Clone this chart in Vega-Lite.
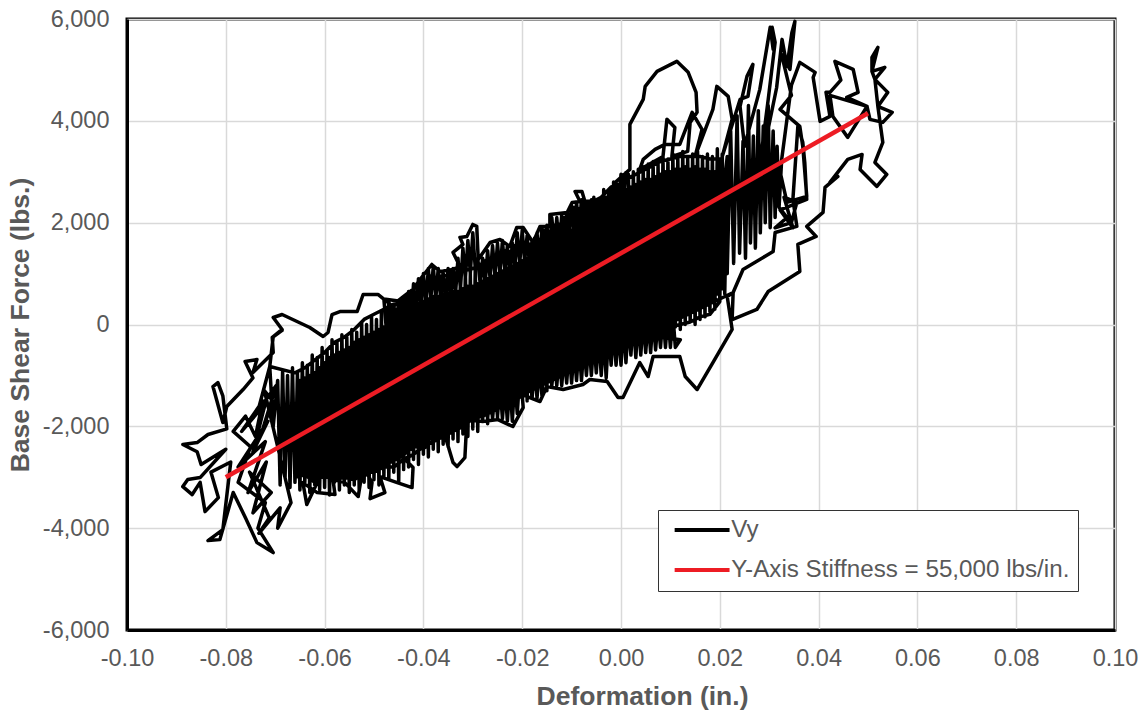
{"$schema":"https://vega.github.io/schema/vega-lite/v6.json","width":988,"height":611,"autosize":"none","padding":{"left":127,"top":19,"right":28,"bottom":83},"background":"white","config":{"view":{"stroke":"#000","strokeWidth":3},"font":"Liberation Sans"},"layer":[{"data":{"values":[
{"x":-0.0684,"y":-98},{"x":-0.0706,"y":-255},{"x":-0.0704,"y":-550},{"x":-0.0745,"y":-943},{"x":-0.0737,"y":-688},{"x":-0.0761,"y":-727},{"x":-0.0745,"y":-1050},{"x":-0.0765,"y":-1277},{"x":-0.0798,"y":-1611},{"x":-0.0806,"y":-1926},{"x":-0.0826,"y":-1218},{"x":-0.0816,"y":-1140},{"x":-0.0806,"y":-1400},{"x":-0.0798,"y":-2050},{"x":-0.0836,"y":-2161},{"x":-0.0858,"y":-2319},{"x":-0.0887,"y":-2358},{"x":-0.0858,"y":-2500},{"x":-0.085,"y":-2750},{"x":-0.08,"y":-2450},{"x":-0.0852,"y":-3006},{"x":-0.0877,"y":-3046},{"x":-0.0887,"y":-3183},{"x":-0.0868,"y":-3340},{"x":-0.0852,"y":-3100},{"x":-0.0842,"y":-3675},{"x":-0.0815,"y":-3400},{"x":-0.083,"y":-2900},{"x":-0.079,"y":-2700},{"x":-0.0806,"y":-4028},{"x":-0.0836,"y":-4244},{"x":-0.0812,"y":-4225},{"x":-0.0785,"y":-3300},{"x":-0.076,"y":-3800},{"x":-0.0737,"y":-4284},{"x":-0.0704,"y":-4480},{"x":-0.0735,"y":-4000},{"x":-0.072,"y":-3500},{"x":-0.0775,"y":-3100},{"x":-0.075,"y":-2400},{"x":-0.0785,"y":-2100},{"x":-0.076,"y":-1800},{"x":-0.074,"y":-2200},{"x":-0.0725,"y":-1500},
{"x":-0.0768,"y":-2100},{"x":-0.072,"y":-1550},{"x":-0.0745,"y":-2500},{"x":-0.0715,"y":-1900},{"x":-0.0775,"y":-2800},{"x":-0.072,"y":-2300},{"x":-0.0755,"y":-3300},{"x":-0.0718,"y":-2700},{"x":-0.0745,"y":-3700},{"x":-0.0708,"y":-3300},{"x":-0.0752,"y":-2900},{"x":-0.0712,"y":-3800},{"x":-0.0733,"y":-4100},{"x":-0.069,"y":-3600},{"x":-0.0695,"y":-4000},{"x":-0.0668,"y":-3500},{"x":-0.0722,"y":-1300},{"x":-0.0705,"y":-1500},{"x":-0.0725,"y":-2050},{"x":-0.0698,"y":-1200},{"x":-0.0735,"y":-1700},{"x":-0.0711,"y":-825},{"x":-0.0704,"y":-2000},{"x":-0.0695,"y":-1100},{"x":-0.069,"y":-3150},{"x":-0.0685,"y":-900},{"x":-0.068,"y":-3000},{"x":-0.0675,"y":-1000},{"x":-0.067,"y":-3200},{"x":-0.0665,"y":-850},{"x":-0.066,"y":-3100},{"x":-0.0655,"y":-950},{"x":-0.065,"y":-3250},{"x":-0.0645,"y":-750},{"x":-0.064,"y":-3100},{"x":-0.0635,"y":-800},{"x":-0.063,"y":-3300},{"x":-0.0625,"y":-600},{"x":-0.062,"y":-3150},{"x":-0.0615,"y":-650},{"x":-0.061,"y":-3250},{"x":-0.0605,"y":-450},{"x":-0.06,"y":-3200},{"x":-0.0595,"y":-500},{"x":-0.059,"y":-3350},{"x":-0.0585,"y":-300},{"x":-0.058,"y":-3100},{"x":-0.0575,"y":-350},{"x":-0.057,"y":-3250},{"x":-0.0565,"y":-200},{"x":-0.056,"y":-3150},{"x":-0.0555,"y":-250},{"x":-0.055,"y":-3300},{"x":-0.0545,"y":-100},{"x":-0.054,"y":-3150},{"x":-0.0535,"y":-150},{"x":-0.053,"y":-3250},{"x":-0.0525,"y":50},{"x":-0.052,"y":-3100},{"x":-0.0515,"y":0},{"x":-0.051,"y":-3200},{"x":-0.0505,"y":150},{"x":-0.05,"y":-3050},{"x":-0.0495,"y":100},{"x":-0.049,"y":-3150},{"x":-0.0485,"y":250},{"x":-0.048,"y":-3000},{"x":-0.0475,"y":200},{"x":-0.047,"y":-3050},{"x":-0.0465,"y":350},{"x":-0.046,"y":-2900},{"x":-0.0455,"y":300},{"x":-0.045,"y":-3100},{"x":-0.0445,"y":500},{"x":-0.044,"y":-2850},{"x":-0.0435,"y":450},{"x":-0.043,"y":-2800},{"x":-0.0425,"y":650},{"x":-0.042,"y":-2650},{"x":-0.0415,"y":600},{"x":-0.041,"y":-2750},{"x":-0.0405,"y":850},{"x":-0.04,"y":-2550},{"x":-0.0395,"y":750},{"x":-0.039,"y":-2600},{"x":-0.0385,"y":950},{"x":-0.038,"y":-2450},{"x":-0.0375,"y":850},{"x":-0.037,"y":-2500},{"x":-0.0365,"y":950},{"x":-0.036,"y":-2350},{"x":-0.0355,"y":850},{"x":-0.035,"y":-2400},{"x":-0.0345,"y":1050},{"x":-0.034,"y":-2250},{"x":-0.0335,"y":950},{"x":-0.033,"y":-2300},{"x":-0.0325,"y":1000},{"x":-0.032,"y":-2150},{"x":-0.0315,"y":1100},{"x":-0.031,"y":-2200},{"x":-0.0305,"y":1000},{"x":-0.03,"y":-2050},{"x":-0.0295,"y":1150},{"x":-0.029,"y":-2100},{"x":-0.0285,"y":1100},{"x":-0.028,"y":-1900},{"x":-0.0275,"y":1250},{"x":-0.027,"y":-1950},{"x":-0.0265,"y":1150},{"x":-0.026,"y":-1800},{"x":-0.0255,"y":1350},{"x":-0.025,"y":-1850},{"x":-0.0245,"y":1300},{"x":-0.024,"y":-1700},{"x":-0.0235,"y":1450},{"x":-0.023,"y":-1750},{"x":-0.0225,"y":1400},{"x":-0.022,"y":-1600},{"x":-0.0215,"y":1550},{"x":-0.021,"y":-1600},{"x":-0.0205,"y":1500},{"x":-0.02,"y":-1450},{"x":-0.0195,"y":1600},{"x":-0.019,"y":-1500},{"x":-0.0185,"y":1550},{"x":-0.018,"y":-1350},{"x":-0.0175,"y":1700},{"x":-0.017,"y":-1400},{"x":-0.0165,"y":1650},{"x":-0.016,"y":-1250},{"x":-0.0155,"y":1850},{"x":-0.015,"y":-1300},{"x":-0.0145,"y":1750},{"x":-0.014,"y":-1150},{"x":-0.0135,"y":1950},{"x":-0.013,"y":-1200},{"x":-0.0125,"y":1900},{"x":-0.012,"y":-1050},{"x":-0.0115,"y":2100},{"x":-0.011,"y":-1100},{"x":-0.0105,"y":2050},{"x":-0.01,"y":-950},{"x":-0.0095,"y":2300},{"x":-0.009,"y":-1000},{"x":-0.0085,"y":2250},{"x":-0.008,"y":-850},{"x":-0.0075,"y":2400},{"x":-0.007,"y":-950},{"x":-0.0065,"y":2350},{"x":-0.006,"y":-800},{"x":-0.0055,"y":2500},{"x":-0.005,"y":-850},{"x":-0.0045,"y":2400},{"x":-0.004,"y":-700},{"x":-0.0035,"y":2650},{"x":-0.003,"y":-750},{"x":-0.0025,"y":2600},{"x":-0.002,"y":-600},{"x":-0.0015,"y":2800},{"x":-0.001,"y":-650},{"x":-0.0005,"y":2750},{"x":0,"y":-500},{"x":0.0005,"y":2900},{"x":0.001,"y":-550},{"x":0.0015,"y":2950},{"x":0.002,"y":-400},{"x":0.0025,"y":3000},{"x":0.003,"y":-450},{"x":0.0035,"y":3050},{"x":0.004,"y":-300},{"x":0.0045,"y":3100},{"x":0.005,"y":-350},{"x":0.0055,"y":3150},{"x":0.006,"y":-250},{"x":0.0065,"y":3200},{"x":0.007,"y":-200},{"x":0.0075,"y":3150},{"x":0.008,"y":-150},{"x":0.0085,"y":3300},{"x":0.009,"y":-200},{"x":0.0095,"y":3250},{"x":0.01,"y":-100},{"x":0.0105,"y":3350},{"x":0.011,"y":-50},{"x":0.0115,"y":3300},{"x":0.012,"y":-100},{"x":0.0125,"y":3400},{"x":0.013,"y":0},{"x":0.0135,"y":3300},{"x":0.014,"y":50},{"x":0.0145,"y":3350},{"x":0.015,"y":0},{"x":0.0155,"y":3400},{"x":0.016,"y":100},{"x":0.0165,"y":3300},{"x":0.017,"y":150},{"x":0.0175,"y":3350},{"x":0.018,"y":250},{"x":0.0185,"y":3300},{"x":0.019,"y":300},{"x":0.0195,"y":3450},{"x":0.02,"y":450},{"x":0.0205,"y":3350},{"x":0.021,"y":600},{"x":0.0215,"y":3300},
{"x":0.021,"y":2800},{"x":0.0205,"y":700},{"x":0.02,"y":2900},{"x":0.0195,"y":600},{"x":0.019,"y":3000},{"x":0.0185,"y":500},{"x":0.018,"y":3000},{"x":0.0175,"y":400},{"x":0.017,"y":3050},{"x":0.0165,"y":350},{"x":0.016,"y":3050},{"x":0.0155,"y":300},{"x":0.015,"y":3100},{"x":0.0145,"y":250},{"x":0.014,"y":3050},{"x":0.0135,"y":200},{"x":0.013,"y":3100},{"x":0.0125,"y":150},{"x":0.012,"y":3050},{"x":0.0115,"y":150},{"x":0.011,"y":3050},{"x":0.0105,"y":100},{"x":0.01,"y":3000},{"x":0.0095,"y":50},{"x":0.009,"y":3000},{"x":0.0085,"y":0},{"x":0.008,"y":2950},{"x":0.0075,"y":-50},{"x":0.007,"y":2900},{"x":0.0065,"y":-50},{"x":0.006,"y":2850},{"x":0.0055,"y":-100},{"x":0.005,"y":2850},{"x":0.0045,"y":-150},{"x":0.004,"y":2800},{"x":0.0035,"y":-200},{"x":0.003,"y":2750},{"x":0.0025,"y":-250},{"x":0.002,"y":2700},{"x":0.0015,"y":-300},{"x":0.001,"y":2650},{"x":0.0005,"y":-300},{"x":0,"y":2550},{"x":-0.0005,"y":-400},{"x":-0.001,"y":2500},{"x":-0.0015,"y":-450},{"x":-0.002,"y":2450},{"x":-0.0025,"y":-500},{"x":-0.003,"y":2350},{"x":-0.0035,"y":-550},{"x":-0.004,"y":2200},{"x":-0.0045,"y":-600},{"x":-0.005,"y":2150},{"x":-0.0055,"y":-600},{"x":-0.006,"y":2150},{"x":-0.0065,"y":-650},{"x":-0.007,"y":2100},{"x":-0.0075,"y":-700},{"x":-0.008,"y":2050},{"x":-0.0085,"y":-750},{"x":-0.009,"y":2000},{"x":-0.0095,"y":-750},{"x":-0.01,"y":1850},{"x":-0.0105,"y":-850},{"x":-0.011,"y":1800},{"x":-0.0115,"y":-900},{"x":-0.012,"y":1700},{"x":-0.0125,"y":-950},{"x":-0.013,"y":1650},{"x":-0.0135,"y":-1000},{"x":-0.014,"y":1600},{"x":-0.0145,"y":-1050},{"x":-0.015,"y":1500},{"x":-0.0155,"y":-1100},{"x":-0.016,"y":1450},{"x":-0.0165,"y":-1150},{"x":-0.017,"y":1400},{"x":-0.0175,"y":-1200},{"x":-0.018,"y":1350},{"x":-0.0185,"y":-1250},{"x":-0.019,"y":1300},{"x":-0.0195,"y":-1300},{"x":-0.02,"y":1250},{"x":-0.0205,"y":-1350},{"x":-0.021,"y":1200},{"x":-0.0215,"y":-1400},{"x":-0.022,"y":1150},{"x":-0.0225,"y":-1450},{"x":-0.023,"y":1100},{"x":-0.0235,"y":-1500},{"x":-0.024,"y":1050},{"x":-0.0245,"y":-1550},{"x":-0.025,"y":1000},{"x":-0.0255,"y":-1600},{"x":-0.026,"y":950},{"x":-0.0265,"y":-1650},{"x":-0.027,"y":900},{"x":-0.0275,"y":-1700},{"x":-0.028,"y":850},{"x":-0.0285,"y":-1750},{"x":-0.029,"y":800},{"x":-0.0295,"y":-1850},{"x":-0.03,"y":750},{"x":-0.0305,"y":-1850},{"x":-0.031,"y":750},{"x":-0.0315,"y":-1950},{"x":-0.032,"y":700},{"x":-0.0325,"y":-2000},{"x":-0.033,"y":650},{"x":-0.0335,"y":-2050},{"x":-0.034,"y":650},{"x":-0.0345,"y":-2100},{"x":-0.035,"y":600},{"x":-0.0355,"y":-2150},{"x":-0.036,"y":600},{"x":-0.0365,"y":-2200},{"x":-0.037,"y":550},{"x":-0.0375,"y":-2250},{"x":-0.038,"y":550},{"x":-0.0385,"y":-2250},{"x":-0.039,"y":500},{"x":-0.0395,"y":-2300},{"x":-0.04,"y":450},{"x":-0.0405,"y":-2350},{"x":-0.041,"y":350},{"x":-0.0415,"y":-2400},{"x":-0.042,"y":300},{"x":-0.0425,"y":-2450},{"x":-0.043,"y":250},{"x":-0.0435,"y":-2500},{"x":-0.044,"y":200},{"x":-0.0445,"y":-2600},{"x":-0.045,"y":100},{"x":-0.0455,"y":-2650},{"x":-0.046,"y":50},{"x":-0.0465,"y":-2700},{"x":-0.047,"y":0},{"x":-0.0475,"y":-2750},{"x":-0.048,"y":-50},{"x":-0.0485,"y":-2800},{"x":-0.049,"y":-100},{"x":-0.0495,"y":-2850},{"x":-0.05,"y":-150},{"x":-0.0505,"y":-2900},{"x":-0.051,"y":-200},{"x":-0.0515,"y":-2950},{"x":-0.052,"y":-250},{"x":-0.0525,"y":-2950},{"x":-0.053,"y":-300},{"x":-0.0535,"y":-3000},{"x":-0.054,"y":-350},{"x":-0.0545,"y":-3000},{"x":-0.055,"y":-450},{"x":-0.0555,"y":-3000},{"x":-0.056,"y":-500},{"x":-0.0565,"y":-3000},{"x":-0.057,"y":-550},{"x":-0.0575,"y":-3000},{"x":-0.058,"y":-600},{"x":-0.0585,"y":-3000},{"x":-0.059,"y":-650},{"x":-0.0595,"y":-3000},{"x":-0.06,"y":-750},{"x":-0.0605,"y":-3000},{"x":-0.061,"y":-850},{"x":-0.0615,"y":-3000},{"x":-0.062,"y":-950},{"x":-0.0625,"y":-3000},{"x":-0.063,"y":-1000},{"x":-0.0635,"y":-2950},{"x":-0.064,"y":-1050},{"x":-0.0645,"y":-2950},{"x":-0.065,"y":-1100},{"x":-0.0655,"y":-2900},
{"x":-0.066,"y":-3000},{"x":-0.064,"y":-2950},{"x":-0.062,"y":-3100},{"x":-0.06,"y":-2950},{"x":-0.058,"y":-3050},{"x":-0.056,"y":-3000},{"x":-0.054,"y":-3050},{"x":-0.052,"y":-2900},{"x":-0.05,"y":-2900},{"x":-0.048,"y":-2800},{"x":-0.046,"y":-2800},{"x":-0.044,"y":-2650},{"x":-0.042,"y":-2550},{"x":-0.04,"y":-2400},{"x":-0.038,"y":-2300},{"x":-0.036,"y":-2200},{"x":-0.034,"y":-2100},{"x":-0.032,"y":-2000},{"x":-0.03,"y":-1850},{"x":-0.028,"y":-1800},{"x":-0.026,"y":-1700},{"x":-0.024,"y":-1600},{"x":-0.022,"y":-1500},{"x":-0.02,"y":-1400},{"x":-0.018,"y":-1250},{"x":-0.016,"y":-1150},{"x":-0.014,"y":-1050},{"x":-0.012,"y":-1000},{"x":-0.01,"y":-900},{"x":-0.008,"y":-800},{"x":-0.006,"y":-750},{"x":-0.004,"y":-650},{"x":-0.002,"y":-550},{"x":0,"y":-450},{"x":0.002,"y":-350},{"x":0.004,"y":-250},{"x":0.006,"y":-200},{"x":0.008,"y":-100},{"x":0.01,"y":-50},{"x":0.012,"y":0},{"x":0.014,"y":50},{"x":0.016,"y":150},{"x":0.018,"y":200},{"x":0.02,"y":450},{"x":0.02,"y":3250},{"x":0.018,"y":3250},{"x":0.016,"y":3300},{"x":0.014,"y":3300},{"x":0.012,"y":3300},{"x":0.01,"y":3250},{"x":0.008,"y":3200},{"x":0.006,"y":3100},{"x":0.004,"y":3000},{"x":0.002,"y":2900},{"x":0,"y":2750},{"x":-0.002,"y":2700},{"x":-0.004,"y":2500},{"x":-0.006,"y":2400},{"x":-0.008,"y":2300},{"x":-0.01,"y":2200},{"x":-0.012,"y":2000},{"x":-0.014,"y":1850},{"x":-0.016,"y":1700},{"x":-0.018,"y":1600},{"x":-0.02,"y":1500},{"x":-0.022,"y":1450},{"x":-0.024,"y":1350},{"x":-0.026,"y":1250},{"x":-0.028,"y":1200},{"x":-0.03,"y":1100},{"x":-0.032,"y":1050},{"x":-0.034,"y":1000},{"x":-0.036,"y":950},{"x":-0.038,"y":850},{"x":-0.04,"y":800},{"x":-0.042,"y":700},{"x":-0.044,"y":550},{"x":-0.046,"y":400},{"x":-0.048,"y":300},{"x":-0.05,"y":200},{"x":-0.052,"y":100},{"x":-0.054,"y":-100},{"x":-0.056,"y":-250},{"x":-0.058,"y":-350},{"x":-0.06,"y":-550},{"x":-0.062,"y":-700},{"x":-0.064,"y":-850},{"x":-0.066,"y":-950},
{"x":-0.0711,"y":-825},{"x":-0.0704,"y":-236},{"x":-0.0686,"y":-98},{"x":-0.0704,"y":138},{"x":-0.0686,"y":196},{"x":-0.063,"y":-59},{"x":-0.0603,"y":-236},{"x":-0.0593,"y":-157},{"x":-0.0585,"y":196},{"x":-0.0569,"y":255},{"x":-0.0534,"y":255},{"x":-0.0522,"y":590},{"x":-0.0492,"y":590},{"x":-0.0462,"y":354},{"x":-0.0433,"y":530},{"x":-0.0407,"y":884},{"x":-0.0383,"y":1179},{"x":-0.0366,"y":1041},{"x":-0.034,"y":1081},{"x":-0.0326,"y":1140},{"x":-0.034,"y":1415},{"x":-0.032,"y":1572},{"x":-0.0326,"y":1710},{"x":-0.0312,"y":1729},{"x":-0.03,"y":1965},{"x":-0.0292,"y":1926},{"x":-0.0289,"y":1277},{"x":-0.0265,"y":1611},{"x":-0.0245,"y":1670},{"x":-0.0225,"y":1533},{"x":-0.0211,"y":1906},{"x":-0.0198,"y":1906},{"x":-0.0178,"y":1611},{"x":-0.0164,"y":1926},{"x":-0.0144,"y":1926},{"x":-0.0144,"y":2162},{"x":-0.0109,"y":2201},{"x":-0.0099,"y":2397},{"x":-0.0083,"y":2417},{"x":-0.0093,"y":2613},{"x":-0.0079,"y":2613},{"x":-0.0073,"y":2417},{"x":-0.0038,"y":2456},{"x":-0.0028,"y":2456},{"x":-0.0012,"y":2790},{"x":0.0018,"y":3046},
{"x":0.0018,"y":3930},{"x":0.0045,"y":4420},{"x":0.0049,"y":4677},{"x":0.0073,"y":4971},{"x":0.0113,"y":5168},{"x":0.0136,"y":4952},{"x":0.0152,"y":4559},{"x":0.0154,"y":4166},{"x":0.014,"y":3969},{"x":0.0135,"y":3400},{"x":0.0103,"y":3300},{"x":0.0109,"y":3870},{"x":0.0093,"y":4030},{"x":0.0085,"y":3300},{"x":0.0038,"y":3046},{"x":0.0045,"y":3242},{"x":0.0069,"y":3439},{"x":0.0089,"y":3537},{"x":0.0119,"y":3537},{"x":0.0144,"y":4166},{"x":0.0164,"y":3832},{"x":0.015,"y":3300},{"x":0.0186,"y":4225},{"x":0.0194,"y":4677},{"x":0.0217,"y":4480},{"x":0.0225,"y":4030},{"x":0.0205,"y":3300},{"x":0.0241,"y":4421},{"x":0.0257,"y":4480},{"x":0.0267,"y":5109},{"x":0.0255,"y":4873},{"x":0.0241,"y":4284},{"x":0.025,"y":3500},{"x":0.0281,"y":4618},{"x":0.0302,"y":5836},{"x":0.0308,"y":5404},{"x":0.0306,"y":5836},{"x":0.0312,"y":5541},{"x":0.0298,"y":4421},{"x":0.0278,"y":2900},{"x":0.0315,"y":4650},{"x":0.0326,"y":5600},{"x":0.0336,"y":5070},{"x":0.0346,"y":5738},{"x":0.0352,"y":5954},{"x":0.0342,"y":5010},{"x":0.0325,"y":5300},{"x":0.0345,"y":4500},{"x":0.0322,"y":4225},{"x":0.0362,"y":3890},{"x":0.0368,"y":3498},{"x":0.0376,"y":2515},{"x":0.0336,"y":2400},{"x":0.0322,"y":3000},{"x":0.0345,"y":4700},{"x":0.0362,"y":5148},{"x":0.0393,"y":4952},{"x":0.0389,"y":4853},{"x":0.0403,"y":3989},{"x":0.0423,"y":4087},{"x":0.0415,"y":4560},{"x":0.0423,"y":4559},{"x":0.0445,"y":4800},{"x":0.0433,"y":5168},{"x":0.047,"y":5011},{"x":0.048,"y":4559},{"x":0.0457,"y":4460},{"x":0.0498,"y":4283},{"x":0.0459,"y":3675},{"x":0.0429,"y":4087},{"x":0.0423,"y":4500},{"x":0.0498,"y":4283},{"x":0.0504,"y":4028},{"x":0.053,"y":3969},{"x":0.0549,"y":4166},{"x":0.052,"y":4283},{"x":0.054,"y":4559},{"x":0.0514,"y":4814},{"x":0.0534,"y":5050},{"x":0.0508,"y":4971},{"x":0.052,"y":5443},{"x":0.0508,"y":5246},{"x":0.0508,"y":4971},{"x":0.0514,"y":4814},{"x":0.052,"y":4283},{"x":0.053,"y":3576},{"x":0.0514,"y":3183},{"x":0.0538,"y":2947},{"x":0.0518,"y":2711},{"x":0.0484,"y":3046},{"x":0.0488,"y":3340},{"x":0.0459,"y":3242},{"x":0.0423,"y":2790},{"x":0.0439,"y":2908},{"x":0.0413,"y":2692},{"x":0.0409,"y":2201},{"x":0.0376,"y":1926},{"x":0.0395,"y":1729},{"x":0.0358,"y":1572},{"x":0.0362,"y":1041},{"x":0.0298,"y":648},{"x":0.0275,"y":295},{"x":0.0225,"y":98},{"x":0.0227,"y":629},{"x":0.0215,"y":550},{"x":0.0225,"y":-98},{"x":0.0186,"y":-747},{"x":0.0154,"y":-1277},{"x":0.013,"y":-1022},{"x":0.0119,"y":-629},{"x":0.0065,"y":-629},{"x":0.0055,"y":-1022},{"x":0.0038,"y":-747},{"x":0.0004,"y":-1434},{"x":-0.0006,"y":-1434},{"x":-0.0028,"y":-1120},{"x":-0.0063,"y":-1081},{"x":-0.0077,"y":-1179},{"x":-0.0117,"y":-1277},{"x":-0.015,"y":-1218},{"x":-0.0164,"y":-1513},{"x":-0.02,"y":-1375},{"x":-0.0198,"y":-1631},{"x":-0.0219,"y":-2004},{"x":-0.0249,"y":-1867},{"x":-0.028,"y":-1906},{"x":-0.0312,"y":-1867},{"x":-0.0316,"y":-2614},{"x":-0.0332,"y":-2790},{"x":-0.034,"y":-2712},{"x":-0.036,"y":-2063},{"x":-0.0393,"y":-2220},{"x":-0.0397,"y":-2417},{"x":-0.0417,"y":-2319},{"x":-0.0443,"y":-2594},{"x":-0.0421,"y":-2810},{"x":-0.0423,"y":-3203},{"x":-0.0453,"y":-3105},{"x":-0.0488,"y":-2987},{"x":-0.0478,"y":-3301},{"x":-0.0508,"y":-3420},{"x":-0.0504,"y":-3105},{"x":-0.0522,"y":-2790},{"x":-0.0532,"y":-3380},{"x":-0.0559,"y":-3105},{"x":-0.0583,"y":-3046},{"x":-0.0579,"y":-3340},{"x":-0.0615,"y":-3301},{"x":-0.0644,"y":-3105},{"x":-0.0636,"y":-3537},{"x":-0.06,"y":-2800},
{"x":-0.02,"y":0},{"x":0.0215,"y":1000},{"x":0.0222,"y":3800},{"x":0.0228,"y":1200},{"x":0.0235,"y":4100},{"x":0.024,"y":1400},{"x":0.0247,"y":3600},{"x":0.0252,"y":1300},{"x":0.0258,"y":4300},{"x":0.0262,"y":1600},{"x":0.0268,"y":3700},{"x":0.0272,"y":1500},{"x":0.0278,"y":4200},{"x":0.0282,"y":1800},{"x":0.0288,"y":3900},{"x":0.0292,"y":2000},{"x":0.0298,"y":4300},{"x":0.0302,"y":1900},{"x":0.0308,"y":3800},{"x":0.0312,"y":2100},{"x":0.0316,"y":3500},{"x":0.032,"y":2300},{"x":0.0325,"y":3200},{"x":0.0316,"y":2358},{"x":0.0336,"y":2100},{"x":0.0312,"y":1900},{"x":0.0345,"y":2000},{"x":0.0356,"y":2400},{"x":0.033,"y":2500},{"x":0.0348,"y":1900},{"x":0.0322,"y":2250},{"x":0.0376,"y":2456},{"x":0.0372,"y":3183},{"x":0.0368,"y":3577},{"x":0.0358,"y":3891},{"x":0.0348,"y":2456},{"x":0.0356,"y":1926},{"x":0.0312,"y":1808},{"x":0.0308,"y":1434},{"x":0.0247,"y":1081},{"x":0.0227,"y":629},
{"x":-0.03,"y":-1850},{"x":-0.0295,"y":-1500},{"x":-0.029,"y":-1800},{"x":-0.0285,"y":-1400},{"x":-0.028,"y":-1850},{"x":-0.0275,"y":-1400},{"x":-0.027,"y":-1850},{"x":-0.0265,"y":-1300},{"x":-0.026,"y":-1850},{"x":-0.0255,"y":-1300},{"x":-0.025,"y":-1800},{"x":-0.0245,"y":-1200},{"x":-0.024,"y":-1850},{"x":-0.0235,"y":-1200},{"x":-0.023,"y":-1900},{"x":-0.0225,"y":-1100},{"x":-0.022,"y":-1900},{"x":-0.0215,"y":-1100},{"x":-0.021,"y":-1750},{"x":-0.0205,"y":-1000},{"x":-0.02,"y":-1450},{"x":-0.0195,"y":-1000},{"x":-0.019,"y":-1400},{"x":-0.0185,"y":-900},{"x":-0.018,"y":-1450},{"x":-0.0175,"y":-800},{"x":-0.017,"y":-1450},{"x":-0.0165,"y":-800},{"x":-0.016,"y":-1400},{"x":-0.0155,"y":-800},{"x":-0.015,"y":-1150},{"x":-0.0145,"y":-700},{"x":-0.014,"y":-1200},{"x":-0.0135,"y":-700},{"x":-0.013,"y":-1200},{"x":-0.0125,"y":-600},{"x":-0.012,"y":-1200},{"x":-0.0115,"y":-600},{"x":-0.011,"y":-1150},{"x":-0.0105,"y":-500},{"x":-0.01,"y":-1150},{"x":-0.0095,"y":-500},{"x":-0.009,"y":-1100},{"x":-0.0085,"y":-400},{"x":-0.008,"y":-1100},{"x":-0.0075,"y":-400},{"x":-0.007,"y":-1000},{"x":-0.0065,"y":-300},{"x":-0.006,"y":-1000},{"x":-0.0055,"y":-300},{"x":-0.005,"y":-950},{"x":-0.0045,"y":-200},{"x":-0.004,"y":-1000},{"x":-0.0035,"y":-200},{"x":-0.003,"y":-1050},{"x":-0.0025,"y":-100},{"x":-0.002,"y":-800},{"x":-0.0015,"y":-100},{"x":-0.001,"y":-800},{"x":-0.0005,"y":-100},{"x":0,"y":-800},{"x":0.0005,"y":0},{"x":0.001,"y":-750},{"x":0.0015,"y":50},{"x":0.002,"y":-600},{"x":0.0025,"y":100},{"x":0.003,"y":-650},{"x":0.0035,"y":100},{"x":0.004,"y":-600},{"x":0.0045,"y":100},{"x":0.005,"y":-550},{"x":0.0055,"y":100},{"x":0.006,"y":-550},{"x":0.0065,"y":150},{"x":0.007,"y":-500},{"x":0.0075,"y":100},{"x":0.008,"y":-450},{"x":0.0085,"y":200},{"x":0.009,"y":-450},{"x":0.0095,"y":200},{"x":0.01,"y":-450},{"x":0.0105,"y":200},{"x":0.011,"y":-450},{"x":0.012,"y":-300},
{"x":-0.048,"y":500},{"x":-0.0475,"y":-100},{"x":-0.047,"y":450},{"x":-0.0465,"y":-150},{"x":-0.046,"y":400},{"x":-0.0455,"y":-200},{"x":-0.045,"y":450},{"x":-0.0445,"y":-100},{"x":-0.044,"y":550},{"x":-0.0435,"y":0},{"x":-0.043,"y":650},{"x":-0.0425,"y":100},{"x":-0.042,"y":800},{"x":-0.0415,"y":200},{"x":-0.041,"y":900},{"x":-0.0405,"y":350},{"x":-0.04,"y":1000},{"x":-0.0395,"y":400},{"x":-0.039,"y":1100},{"x":-0.0385,"y":500},{"x":-0.038,"y":1150},{"x":-0.0375,"y":500},{"x":-0.037,"y":1100},{"x":-0.0365,"y":500},{"x":-0.036,"y":1050},{"x":-0.0355,"y":450},{"x":-0.035,"y":1100},{"x":-0.0345,"y":500},{"x":-0.034,"y":1100},{"x":-0.0335,"y":600},{"x":-0.033,"y":1300},{"x":-0.0325,"y":700},{"x":-0.032,"y":1500},{"x":-0.0315,"y":900},{"x":-0.031,"y":1650},{"x":-0.0305,"y":1000},{"x":-0.03,"y":1800},{"x":-0.0295,"y":1100},{"x":-0.029,"y":1300},{"x":-0.0285,"y":800},{"x":-0.028,"y":1300},{"x":-0.0275,"y":800},{"x":-0.027,"y":1450},{"x":-0.0265,"y":900},{"x":-0.026,"y":1550},{"x":-0.0255,"y":950},{"x":-0.025,"y":1600},{"x":-0.0245,"y":1000},{"x":-0.024,"y":1650},{"x":-0.0235,"y":1050},{"x":-0.023,"y":1550},{"x":-0.0225,"y":1000},{"x":-0.022,"y":1600},{"x":-0.0215,"y":1100},{"x":-0.021,"y":1800},{"x":-0.0205,"y":1200},{"x":-0.02,"y":1850},{"x":-0.0195,"y":1250},{"x":-0.019,"y":1750},{"x":-0.0185,"y":1150},{"x":-0.018,"y":1650},{"x":-0.0175,"y":1200},{"x":-0.017,"y":1800},{"x":-0.0165,"y":1250},{"x":-0.016,"y":1900},{"x":-0.0155,"y":1350},{"x":-0.015,"y":1950},{"x":-0.0145,"y":1400},{"x":-0.014,"y":2100},{"x":-0.0135,"y":1500},{"x":-0.013,"y":2100},{"x":-0.0125,"y":1500},{"x":-0.012,"y":2150},{"x":-0.0115,"y":1600},{"x":-0.011,"y":2200},{"x":-0.0105,"y":1700},{"x":-0.01,"y":2350},{"x":-0.0095,"y":1800},{"x":-0.009,"y":2400},{"x":-0.0085,"y":1850},{"x":-0.008,"y":2450},{"x":-0.0075,"y":1900},{"x":-0.007,"y":2400},{"x":-0.0065,"y":1900},{"x":-0.006,"y":2450},{"x":-0.0055,"y":1900},{"x":-0.005,"y":2450},{"x":-0.0045,"y":1950},{"x":-0.004,"y":2450},{"x":-0.0035,"y":2000},{"x":-0.003,"y":2500},{"x":-0.0025,"y":2100},{"x":-0.002,"y":2700},{"x":-0.0015,"y":2250},{"x":-0.001,"y":2800},{"x":-0.0005,"y":2350},{"x":0,"y":2950},{"x":0.0005,"y":2500},{"x":0.001,"y":3000}
]},"mark":{"type":"line","strokeWidth":3.5,"strokeJoin":"round","clip":true},"encoding":{"order":{"value":null},"x":{"field":"x","type":"quantitative","scale":{"domain":[-0.1,0.1],"nice":false},"axis":{"values":[-0.1,-0.08,-0.06,-0.04,-0.02,0,0.02,0.04,0.06,0.08,0.1],"labelExpr":"replace(format(datum.value,'.2f'),'−','-')","labelFlush":false,"labelOverlap":false,"title":"Deformation (in.)","titleFontSize":26.5,"titleFontWeight":"bold","titleColor":"#595959","titlePadding":14,"titleX":515,"labelFontSize":23.5,"labelColor":"#595959","labelPadding":16,"ticks":false,"domainColor":"#000","domainWidth":3,"gridColor":"#d9d9d9","gridWidth":1.5}},"y":{"field":"y","type":"quantitative","scale":{"domain":[-6000,6000],"nice":false},"axis":{"values":[-6000,-4000,-2000,0,2000,4000,6000],"labelExpr":"replace(format(datum.value,',.0f'),'−','-')","labelFlush":false,"labelOverlap":false,"title":"Base Shear Force (lbs.)","titleFontSize":26.5,"titleFontWeight":"bold","titleColor":"#595959","titlePadding":8,"labelFontSize":23.5,"labelColor":"#595959","labelPadding":18,"ticks":false,"domainColor":"#000","domainWidth":3,"gridColor":"#d9d9d9","gridWidth":1.5}},"color":{"datum":"Vy","type":"nominal","scale":{"domain":["Vy","Y-Axis Stiffness = 55,000 lbs/in."],"range":["#000000","#ed1c24"]},"legend":{"title":null,"orient":"none","legendX":531,"legendY":491,"fillColor":"white","strokeColor":"#333333","padding":8,"symbolType":"M-3.5,0H3.5","symbolSize":246,"symbolStrokeWidth":4,"symbolOffset":24,"labelOffset":17,"labelFontSize":24.2,"labelColor":"#595959","labelLimit":500,"rowPadding":15}}}},
{"data":{"values":[{"x":-0.08,"y":-3000},{"x":0.05,"y":4150}]},"mark":{"type":"line","strokeWidth":4.5,"strokeCap":"butt"},"encoding":{"x":{"field":"x","type":"quantitative"},"y":{"field":"y","type":"quantitative"},"color":{"datum":"Y-Axis Stiffness = 55,000 lbs/in.","type":"nominal"}}}]}
